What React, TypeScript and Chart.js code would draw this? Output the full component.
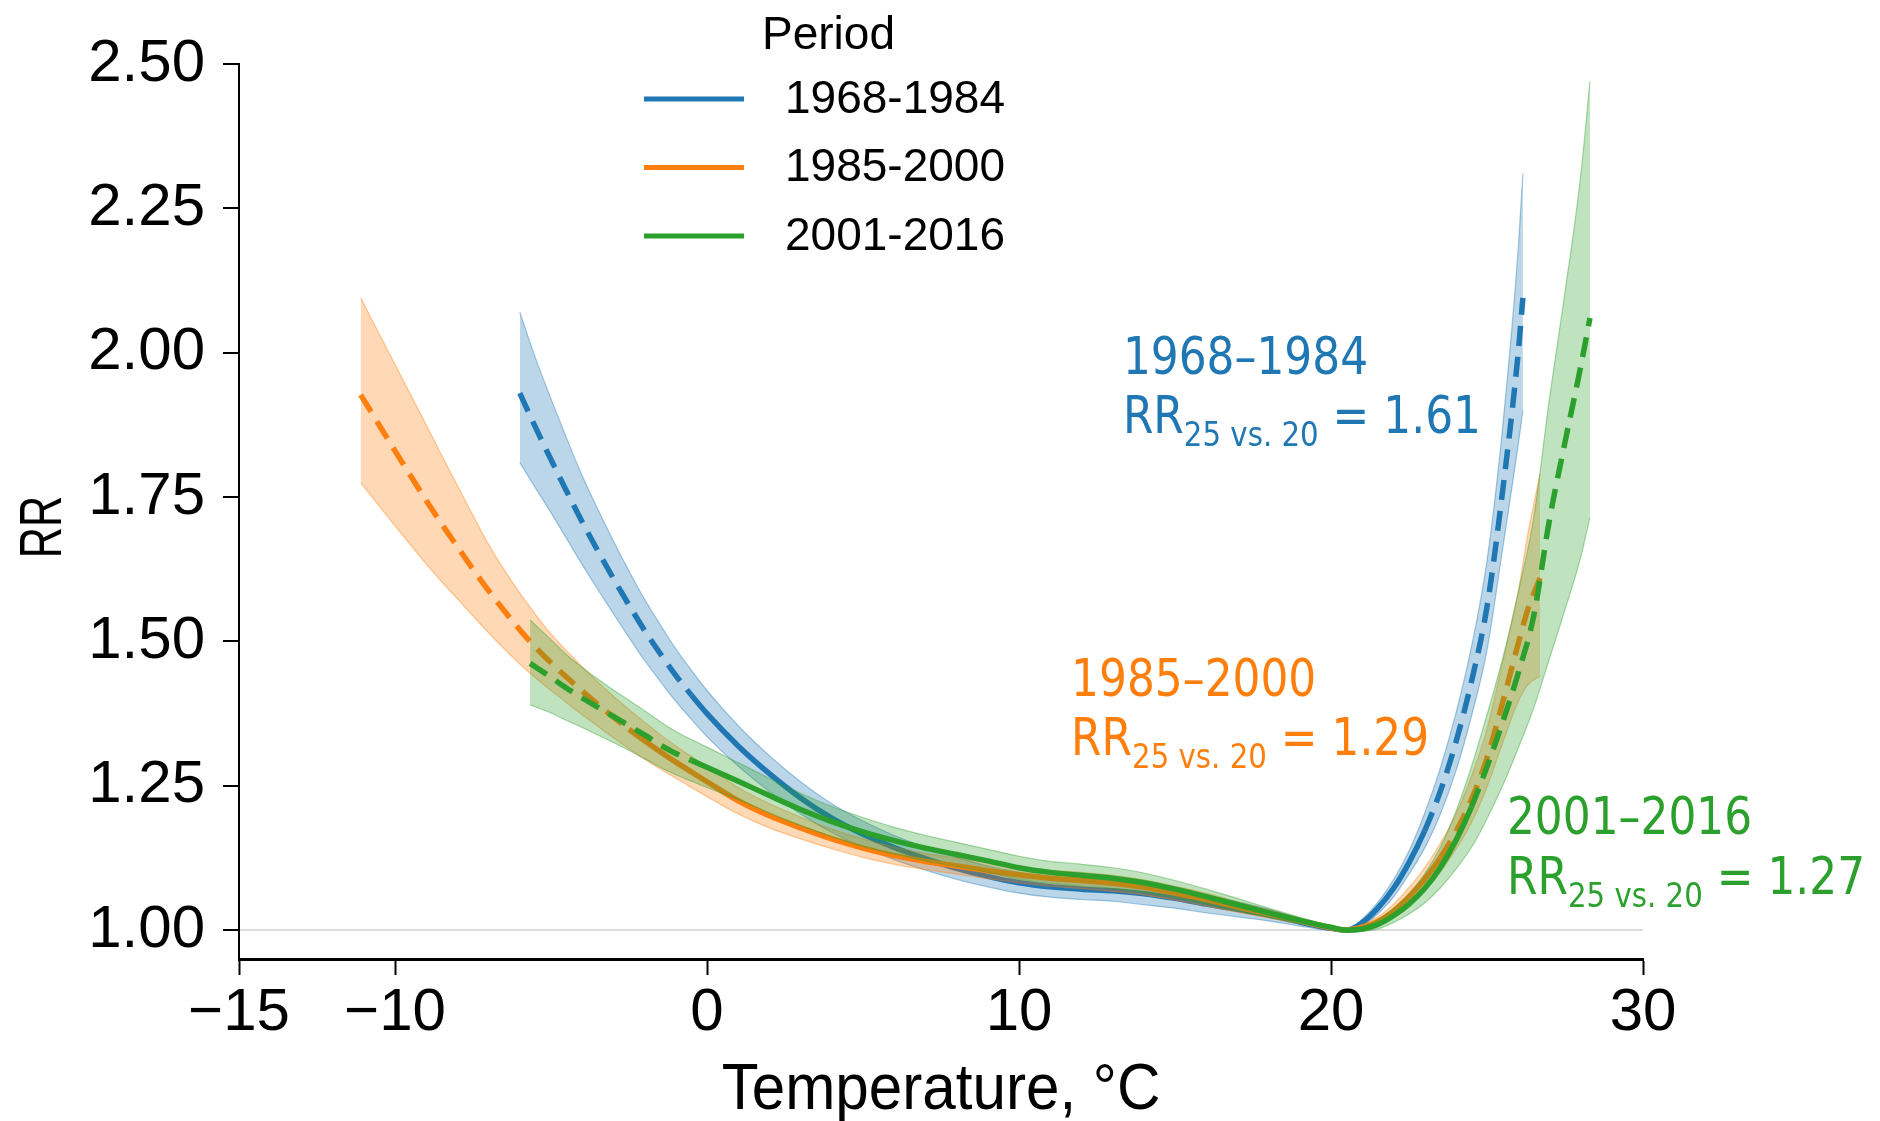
import React, { useEffect, useRef } from 'react';
import { Chart, registerables } from 'chart.js';

Chart.register(...registerables);

// ---------- data ----------
const periods = ['1968-1984', '1985-2000', '2001-2016'];
const annotationTitles = ['1968–1984', '1985–2000', '2001–2016'];
const rr25vs20 = ['1.61', '1.29', '1.27'];
const xTickValues = [-15, -10, 0, 10, 20, 30];
const yTickValues = [1.0, 1.25, 1.5, 1.75, 2.0, 2.25, 2.5];

const tempBlue = [-6, -5.5, -5, -4.5, -4, -3.5, -3, -2.5, -2, -1.5, -1, -0.5, 0, 1, 2, 3, 4, 5, 6, 7, 8, 9, 10, 11, 12, 13, 14, 15, 16, 17, 18, 19, 20, 20.5, 21, 21.5, 22, 22.5, 23, 23.5, 24, 24.5, 25, 25.5, 26, 26.15];
const rrBlue = [1.930, 1.871, 1.815, 1.760, 1.707, 1.657, 1.609, 1.563, 1.519, 1.479, 1.441, 1.407, 1.375, 1.319, 1.271, 1.229, 1.194, 1.166, 1.143, 1.124, 1.107, 1.093, 1.082, 1.075, 1.071, 1.068, 1.063, 1.055, 1.045, 1.036, 1.026, 1.014, 1.003, 1.000, 1.013, 1.038, 1.072, 1.117, 1.172, 1.240, 1.325, 1.430, 1.560, 1.760, 2.000, 2.095];
const lowBlue = [1.810, 1.766, 1.723, 1.678, 1.633, 1.590, 1.548, 1.507, 1.467, 1.431, 1.396, 1.365, 1.335, 1.284, 1.240, 1.201, 1.169, 1.143, 1.122, 1.104, 1.088, 1.075, 1.064, 1.057, 1.053, 1.050, 1.044, 1.038, 1.030, 1.023, 1.016, 1.007, 1.000, 1.000, 1.007, 1.028, 1.057, 1.097, 1.142, 1.200, 1.275, 1.370, 1.485, 1.660, 1.840, 1.900];
const highBlue = [2.070, 1.991, 1.920, 1.852, 1.787, 1.729, 1.674, 1.622, 1.573, 1.529, 1.487, 1.450, 1.415, 1.354, 1.302, 1.257, 1.219, 1.189, 1.164, 1.144, 1.126, 1.111, 1.100, 1.093, 1.089, 1.086, 1.080, 1.072, 1.060, 1.049, 1.036, 1.021, 1.006, 1.000, 1.019, 1.048, 1.087, 1.137, 1.202, 1.280, 1.375, 1.490, 1.640, 1.870, 2.180, 2.310];

const tempOrange = [-11.1, -10.5, -10, -9.5, -9, -8.5, -8, -7.5, -7, -6.5, -6, -5.5, -5, -4.5, -4, -3.5, -3, -2.5, -2, -1.5, -1, -0.5, 0, 1, 2, 3, 4, 5, 6, 7, 8, 9, 10, 11, 12, 13, 14, 15, 16, 17, 18, 19, 20, 20.5, 21, 21.5, 22, 22.5, 23, 23.5, 24, 24.5, 25, 25.5, 26, 26.3, 26.7];
const rrOrange = [1.927, 1.874, 1.830, 1.787, 1.744, 1.703, 1.664, 1.625, 1.588, 1.553, 1.520, 1.490, 1.463, 1.438, 1.414, 1.391, 1.369, 1.348, 1.328, 1.309, 1.291, 1.274, 1.257, 1.224, 1.198, 1.177, 1.158, 1.142, 1.129, 1.119, 1.111, 1.103, 1.096, 1.090, 1.086, 1.081, 1.074, 1.064, 1.053, 1.040, 1.028, 1.016, 1.004, 1.000, 1.005, 1.015, 1.033, 1.058, 1.088, 1.125, 1.170, 1.226, 1.298, 1.394, 1.496, 1.554, 1.610];
const lowOrange = [1.775, 1.734, 1.700, 1.667, 1.634, 1.603, 1.574, 1.544, 1.515, 1.487, 1.461, 1.437, 1.415, 1.394, 1.373, 1.353, 1.333, 1.314, 1.296, 1.279, 1.263, 1.247, 1.231, 1.201, 1.177, 1.158, 1.141, 1.126, 1.114, 1.105, 1.097, 1.089, 1.082, 1.076, 1.072, 1.067, 1.061, 1.052, 1.042, 1.031, 1.021, 1.011, 1.002, 1.000, 1.001, 1.007, 1.021, 1.042, 1.068, 1.100, 1.140, 1.186, 1.248, 1.324, 1.396, 1.424, 1.440];
const highOrange = [2.095, 2.032, 1.980, 1.927, 1.875, 1.822, 1.770, 1.718, 1.668, 1.624, 1.584, 1.547, 1.513, 1.484, 1.456, 1.430, 1.405, 1.382, 1.360, 1.339, 1.319, 1.301, 1.283, 1.247, 1.219, 1.196, 1.175, 1.158, 1.144, 1.133, 1.125, 1.117, 1.110, 1.104, 1.100, 1.095, 1.087, 1.076, 1.064, 1.049, 1.035, 1.021, 1.006, 1.000, 1.009, 1.023, 1.045, 1.074, 1.108, 1.150, 1.200, 1.266, 1.348, 1.464, 1.586, 1.684, 1.790];

const tempGreen = [-5.67, -5, -4.5, -4, -3.5, -3, -2.5, -2, -1.5, -1, -0.5, 0, 1, 2, 3, 4, 5, 6, 7, 8, 9, 10, 11, 12, 13, 14, 15, 16, 17, 18, 19, 20, 20.5, 21, 21.5, 22, 22.5, 23, 23.5, 24, 24.5, 25, 25.5, 26, 26.5, 27, 27.5, 28, 28.3];
const rrGreen = [1.462, 1.438, 1.419, 1.402, 1.386, 1.370, 1.354, 1.338, 1.321, 1.306, 1.294, 1.282, 1.258, 1.233, 1.209, 1.188, 1.170, 1.155, 1.142, 1.131, 1.120, 1.108, 1.100, 1.095, 1.090, 1.082, 1.071, 1.058, 1.044, 1.030, 1.017, 1.005, 1.000, 1.002, 1.010, 1.025, 1.045, 1.072, 1.108, 1.155, 1.213, 1.283, 1.360, 1.445, 1.545, 1.710, 1.845, 1.975, 2.060];
const lowGreen = [1.390, 1.376, 1.363, 1.351, 1.338, 1.325, 1.311, 1.297, 1.282, 1.269, 1.258, 1.247, 1.226, 1.203, 1.181, 1.162, 1.145, 1.132, 1.120, 1.110, 1.100, 1.088, 1.081, 1.076, 1.072, 1.065, 1.056, 1.045, 1.033, 1.022, 1.012, 1.003, 1.000, 0.998, 1.002, 1.013, 1.028, 1.047, 1.073, 1.105, 1.143, 1.193, 1.250, 1.315, 1.385, 1.470, 1.555, 1.645, 1.715];
const highGreen = [1.537, 1.503, 1.477, 1.455, 1.435, 1.416, 1.398, 1.380, 1.361, 1.344, 1.330, 1.317, 1.290, 1.263, 1.237, 1.214, 1.195, 1.178, 1.164, 1.152, 1.140, 1.128, 1.119, 1.114, 1.108, 1.099, 1.086, 1.071, 1.055, 1.038, 1.022, 1.007, 1.000, 1.006, 1.018, 1.037, 1.062, 1.097, 1.143, 1.205, 1.283, 1.373, 1.470, 1.585, 1.715, 1.920, 2.105, 2.305, 2.470];

// ---------- styling ----------
const LINE_COLORS = ['#1f77b4', '#ff7f0e', '#2ca02c'];
const BAND_FILLS = ['rgba(31,119,180,0.30)', 'rgba(255,127,14,0.30)', 'rgba(44,160,44,0.30)'];
const BAND_EDGES = ['rgba(31,119,180,0.40)', 'rgba(255,127,14,0.40)', 'rgba(44,160,44,0.40)'];
const SOLID_RANGES = [[-0.5, 23.0], [-2.5, 23.5], [-0.5, 24.5]];
// anchor of the annotation text blocks, in data coordinates (x, title baseline, RR baseline)
const ANNOT_ANCHORS = [
  { x: 13.33, y1: 1.963, y2: 1.861 },
  { x: 11.67, y1: 1.405, y2: 1.303 },
  { x: 25.64, y1: 1.166, y2: 1.062 },
];

const seriesDefs = [
  { x: tempBlue, y: rrBlue, lo: lowBlue, hi: highBlue },
  { x: tempOrange, y: rrOrange, lo: lowOrange, hi: highOrange },
  { x: tempGreen, y: rrGreen, lo: lowGreen, hi: highGreen },
];

const SANS = '"Liberation Sans", Arial, Helvetica, sans-serif';
const TAHOMA_LIKE = '"DejaVu Sans", Verdana, sans-serif';

function drawScaled(ctx: CanvasRenderingContext2D, text: string, x: number, y: number, font: string, sx: number) {
  ctx.save();
  ctx.font = font;
  const w = ctx.measureText(text).width * sx;
  ctx.translate(x, y);
  ctx.scale(sx, 1);
  ctx.fillText(text, 0, 0);
  ctx.restore();
  return w;
}

const decorPlugin = {
  id: 'decor',
  afterDraw(chart: any) {
    const ctx: CanvasRenderingContext2D = chart.ctx;
    const xs = chart.scales.x;
    const ys = chart.scales.y;
    const area = chart.chartArea;
    ctx.save();
    ctx.textAlign = 'left';
    ctx.textBaseline = 'alphabetic';

    // legend
    ctx.fillStyle = '#000';
    ctx.font = `46px ${SANS}`;
    ctx.fillText('Period', 762, 49);
    const lineSets = chart.data.datasets.filter((d: any) => d.role === 'line');
    lineSets.forEach((d: any, i: number) => {
      const yy = 99 + i * 68.5;
      ctx.strokeStyle = d.borderColor;
      ctx.lineWidth = 5;
      ctx.setLineDash([]);
      ctx.beginPath();
      ctx.moveTo(644, yy);
      ctx.lineTo(744, yy);
      ctx.stroke();
      ctx.fillStyle = '#000';
      ctx.font = `46px ${SANS}`;
      ctx.textBaseline = 'middle';
      ctx.fillText(d.label, 785, yy + 1);
      ctx.textBaseline = 'alphabetic';
    });

    // annotations
    ANNOT_ANCHORS.forEach((a, i) => {
      const px = xs.getPixelForValue(a.x);
      const py1 = ys.getPixelForValue(a.y1);
      const py2 = ys.getPixelForValue(a.y2);
      ctx.fillStyle = LINE_COLORS[i];
      drawScaled(ctx, annotationTitles[i], px, py1, `51px ${TAHOMA_LIKE}`, 0.86);
      let cx = px;
      cx += drawScaled(ctx, 'RR', cx, py2, `51px ${TAHOMA_LIKE}`, 0.86);
      cx += drawScaled(ctx, '25 vs. 20', cx, py2 + 13, `34px ${TAHOMA_LIKE}`, 0.86);
      drawScaled(ctx, ' = ' + rr25vs20[i], cx, py2, `51px ${TAHOMA_LIKE}`, 0.86);
    });

    // axis titles
    ctx.fillStyle = '#000';
    ctx.textAlign = 'center';
    ctx.textBaseline = 'alphabetic';
    ctx.save();
    ctx.translate((area.left + area.right) / 2, 1109);
    ctx.scale(0.94, 1);
    ctx.font = `64px ${SANS}`;
    ctx.fillText('Temperature, °C', 0, 0);
    ctx.restore();

    ctx.save();
    ctx.translate(44, 527);
    ctx.rotate(-Math.PI / 2);
    ctx.scale(0.72, 1);
    ctx.font = `60px ${SANS}`;
    ctx.textBaseline = 'middle';
    ctx.fillText('RR', 0, 0);
    ctx.restore();

    ctx.restore();
  },
};

function buildDatasets() {
  const datasets: any[] = [];
  seriesDefs.forEach((s, i) => {
    const pts = (arr: number[]) => s.x.map((x, k) => ({ x, y: arr[k] }));
    const lowerIndex = datasets.length;
    const [solidFrom, solidTo] = SOLID_RANGES[i];
    datasets.push({
      label: periods[i] + ' lower',
      role: 'band',
      data: pts(s.lo),
      borderColor: BAND_EDGES[i],
      borderWidth: 1.2,
      pointRadius: 0,
      fill: false,
      cubicInterpolationMode: 'monotone',
      order: 10 - i * 3,
    });
    datasets.push({
      label: periods[i] + ' upper',
      role: 'band',
      data: pts(s.hi),
      borderColor: BAND_EDGES[i],
      backgroundColor: BAND_FILLS[i],
      borderWidth: 1.2,
      pointRadius: 0,
      fill: lowerIndex,
      cubicInterpolationMode: 'monotone',
      order: 10 - i * 3,
    });
    datasets.push({
      label: periods[i],
      role: 'line',
      data: pts(s.y),
      borderColor: LINE_COLORS[i],
      borderWidth: 5.5,
      borderCapStyle: 'butt',
      pointRadius: 0,
      fill: false,
      cubicInterpolationMode: 'monotone',
      order: 9 - i * 3,
      segment: {
        borderDash: (ctx: any) => {
          const x0 = s.x[ctx.p0DataIndex];
          const x1 = s.x[ctx.p1DataIndex];
          return x0 < solidFrom - 1e-9 || x1 > solidTo + 1e-9 ? [20, 11] : undefined;
        },
      },
    });
  });
  return datasets;
}

export default function App() {
  const ref = useRef<HTMLCanvasElement | null>(null);

  useEffect(() => {
    document.body.style.margin = '0';
    const canvas = ref.current;
    if (!canvas) return;
    const chart = new Chart(canvas, {
      type: 'line',
      data: { datasets: buildDatasets() },
      options: {
        responsive: false,
        maintainAspectRatio: false,
        animation: false,
        events: [],
        layout: { padding: { left: 0, top: 64, right: 237, bottom: 0 } },
        plugins: {
          legend: { display: false },
          tooltip: { enabled: false },
          title: { display: false },
        },
        scales: {
          x: {
            type: 'linear',
            min: -15,
            max: 30,
            afterFit: (scale: any) => { scale.height = 162; },
            afterBuildTicks: (scale: any) => { scale.ticks = xTickValues.map((v) => ({ value: v })); },
            border: { display: true, color: '#000', width: 3 },
            grid: {
              display: true,
              drawOnChartArea: false,
              drawTicks: true,
              tickLength: 16,
              tickWidth: 2,
              tickColor: '#000',
            },
            ticks: {
              color: '#000',
              font: { family: SANS, size: 60 },
              padding: 2,
              maxRotation: 0,
              autoSkip: false,
              callback: (v: any) => (Number(v) < 0 ? '\u2212' + Math.abs(Number(v)) : String(v)),
            },
          },
          y: {
            type: 'linear',
            min: 0.95,
            max: 2.5,
            afterFit: (scale: any) => { scale.width = 239; },
            afterBuildTicks: (scale: any) => { scale.ticks = yTickValues.map((v) => ({ value: v })); },
            border: { display: true, color: '#000', width: 2 },
            grid: {
              display: true,
              drawOnChartArea: true,
              drawTicks: true,
              tickLength: 16,
              tickWidth: 2,
              tickColor: '#000',
              lineWidth: 2,
              color: (ctx: any) => (ctx.tick && Math.abs(ctx.tick.value - 1) < 1e-9 ? '#dcdcdc' : 'rgba(0,0,0,0)'),
            },
            ticks: {
              color: '#000',
              font: { family: SANS, size: 60 },
              padding: 18,
              autoSkip: false,
              callback: (v: any) => Number(v).toFixed(2),
            },
          },
        },
      },
      plugins: [decorPlugin],
    } as any);
    return () => chart.destroy();
  }, []);

  return (
    <canvas
      ref={ref}
      width={1880}
      height={1121}
      style={{ display: 'block', width: '1880px', height: '1121px' }}
    />
  );
}
